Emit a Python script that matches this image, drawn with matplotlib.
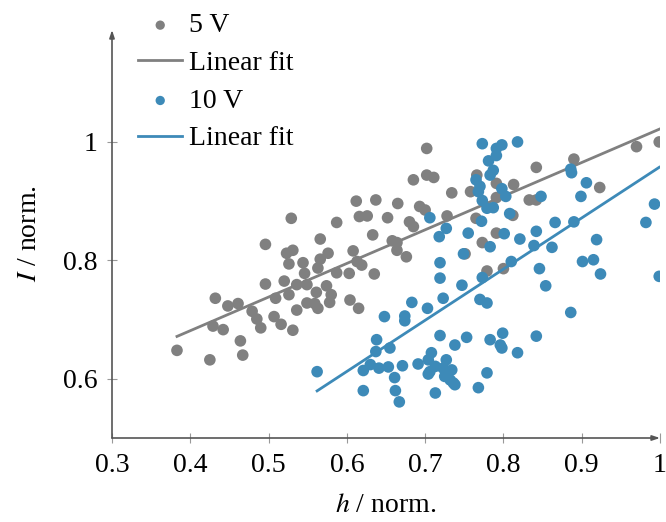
import numpy as np
import matplotlib
matplotlib.use("Agg")
import matplotlib.pyplot as plt

plt.rcParams['font.family'] = ['Liberation Serif', 'DejaVu Serif']
plt.rcParams['mathtext.fontset'] = 'stix'

# ---- data ----
h_5V = [0.383, 0.425, 0.429, 0.432, 0.442, 0.448, 0.461, 0.464, 0.467, 0.479,
        0.485, 0.490, 0.496, 0.496, 0.507, 0.509, 0.516, 0.520, 0.523, 0.529,
        0.531, 0.526, 0.526, 0.531, 0.536, 0.536, 0.544, 0.546, 0.549, 0.566,
        0.566, 0.563, 0.576, 0.587, 0.587, 0.603, 0.608, 0.613, 0.619, 0.612,
        0.616, 0.626, 0.633, 0.635, 0.637, 0.652, 0.658, 0.664, 0.664, 0.665,
        0.676, 0.680, 0.685, 0.685, 0.693, 0.700, 0.702, 0.702, 0.711, 0.728,
        0.734, 0.758, 0.765, 0.766, 0.791, 0.791, 0.813, 0.833, 0.842, 0.842,
        0.812, 0.791, 0.773, 0.751, 0.779, 0.800, 0.890, 0.923, 0.970, 0.999,
        0.549, 0.561, 0.574, 0.580, 0.559, 0.578, 0.604, 0.615, 0.563]
I_5V = [0.648, 0.632, 0.689, 0.736, 0.683, 0.723, 0.727, 0.664, 0.640, 0.714,
        0.701, 0.686, 0.827, 0.760, 0.705, 0.736, 0.692, 0.765, 0.812, 0.871,
        0.817, 0.794, 0.742, 0.682, 0.759, 0.716, 0.796, 0.778, 0.728, 0.836,
        0.802, 0.787, 0.812, 0.864, 0.779, 0.778, 0.816, 0.798, 0.792, 0.900,
        0.874, 0.875, 0.843, 0.777, 0.902, 0.872, 0.833, 0.830, 0.817, 0.896,
        0.806, 0.865, 0.857, 0.936, 0.891, 0.885, 0.989, 0.944, 0.940, 0.875,
        0.914, 0.916, 0.871, 0.944, 0.930, 0.906, 0.928, 0.902, 0.902, 0.957,
        0.876, 0.846, 0.830, 0.811, 0.782, 0.786, 0.971, 0.923, 0.992, 1.000,
        0.759, 0.746, 0.757, 0.742, 0.727, 0.729, 0.733, 0.719, 0.719]

h_10V = [0.562, 0.621, 0.630, 0.641, 0.653, 0.671, 0.691, 0.621, 0.662, 0.667,
         0.661, 0.638, 0.637, 0.655, 0.648, 0.674, 0.674, 0.683, 0.703, 0.723,
         0.719, 0.719, 0.747, 0.770, 0.779, 0.704, 0.708, 0.704, 0.719, 0.738,
         0.753, 0.706, 0.713, 0.723, 0.727, 0.734, 0.725, 0.732, 0.736, 0.738,
         0.713, 0.768, 0.779, 0.783, 0.799, 0.796, 0.798, 0.818, 0.842, 0.854,
         0.886, 0.846, 0.810, 0.773, 0.901, 0.915, 0.924, 0.999, 0.919, 0.862,
         0.839, 0.821, 0.783, 0.801, 0.842, 0.772, 0.808, 0.866, 0.890, 0.982,
         0.993, 0.899, 0.906, 0.886, 0.887, 0.848, 0.773, 0.779, 0.787, 0.798,
         0.803, 0.770, 0.768, 0.765, 0.787, 0.783, 0.781, 0.791, 0.791, 0.798,
         0.818, 0.773, 0.706, 0.727, 0.718, 0.755, 0.749]
I_10V = [0.612, 0.614, 0.624, 0.618, 0.620, 0.622, 0.625, 0.580, 0.580, 0.561,
         0.602, 0.666, 0.646, 0.652, 0.705, 0.706, 0.698, 0.729, 0.719, 0.736,
         0.770, 0.796, 0.758, 0.734, 0.728, 0.632, 0.644, 0.608, 0.673, 0.657,
         0.670, 0.612, 0.621, 0.618, 0.632, 0.615, 0.604, 0.598, 0.593, 0.590,
         0.576, 0.585, 0.610, 0.666, 0.677, 0.657, 0.652, 0.644, 0.672, 0.757,
         0.712, 0.786, 0.798, 0.771, 0.798, 0.801, 0.777, 0.773, 0.835, 0.822,
         0.825, 0.836, 0.823, 0.845, 0.849, 0.866, 0.879, 0.864, 0.865, 0.864,
         0.895, 0.908, 0.931, 0.954, 0.948, 0.908, 0.901, 0.888, 0.889, 0.921,
         0.908, 0.925, 0.916, 0.936, 0.952, 0.944, 0.968, 0.977, 0.989, 0.995,
         1.000, 0.997, 0.872, 0.854, 0.840, 0.846, 0.811]

# linear fit parameters (slope, intercept)
fit_5V = (0.568, 0.454)
fit_10V = (0.864, 0.094)

x_ticks = [0.3, 0.4, 0.5, 0.6, 0.7, 0.8, 0.9, 1.0]
x_ticklabels = ["0.3", "0.4", "0.5", "0.6", "0.7", "0.8", "0.9", "1"]
y_ticks = [0.6, 0.8, 1.0]
y_ticklabels = ["0.6", "0.8", "1"]

gray = '#808080'
blue = '#3d8ab8'

fig = plt.figure(figsize=(6.66, 5.22), dpi=100)
ax = fig.add_axes([112/666, 84/522, 548/666, 408/522])

ax.scatter(h_5V, I_5V, s=70, color=gray, edgecolors='none', label='5 V', zorder=2)
xg = np.array([min(h_5V), max(h_5V)])
ax.plot(xg, fit_5V[0]*xg + fit_5V[1], color=gray, lw=2.0, label='Linear fit', zorder=3)
ax.scatter(h_10V, I_10V, s=70, color=blue, edgecolors='none', label='10 V', zorder=4)
xb = np.array([min(h_10V), max(h_10V)])
ax.plot(xb, fit_10V[0]*xb + fit_10V[1], color=blue, lw=2.0, label='Linear fit', zorder=5)

ax.set_xlim(0.3, 1.0)
ax.set_ylim(0.5, 1.189)
for s in ax.spines.values():
    s.set_visible(False)

axis_col = '#555555'
ax.annotate('', xy=(0, 1.0), xytext=(0, 0), xycoords='axes fraction',
            arrowprops=dict(arrowstyle='-|>,head_length=0.45,head_width=0.15',
                            color=axis_col, lw=1.2, shrinkA=0, shrinkB=0),
            annotation_clip=False)
ax.annotate('', xy=(1.0, 0), xytext=(0, 0), xycoords='axes fraction',
            arrowprops=dict(arrowstyle='-|>,head_length=0.45,head_width=0.15',
                            color=axis_col, lw=1.2, shrinkA=0, shrinkB=0),
            annotation_clip=False)

ax.set_xticks(x_ticks)
ax.set_xticklabels(x_ticklabels)
ax.set_yticks(y_ticks)
ax.set_yticklabels(y_ticklabels)
ax.tick_params(direction='inout', length=7, width=0.8, color='#999999',
               labelsize=20, pad=7)

ax.set_xlabel(r'$h$ / norm.', fontsize=20, labelpad=11)
ax.set_ylabel(r'$I$ / norm.', fontsize=20, labelpad=15)

leg = fig.legend(loc='upper left', bbox_to_anchor=(138/666, 1 - 13/522),
                 frameon=False, fontsize=20, handlelength=1.6,
                 handletextpad=0.25, labelspacing=0.44, markerscale=0.8,
                 borderpad=0, borderaxespad=0)

fig.savefig('out.png', dpi=100)
